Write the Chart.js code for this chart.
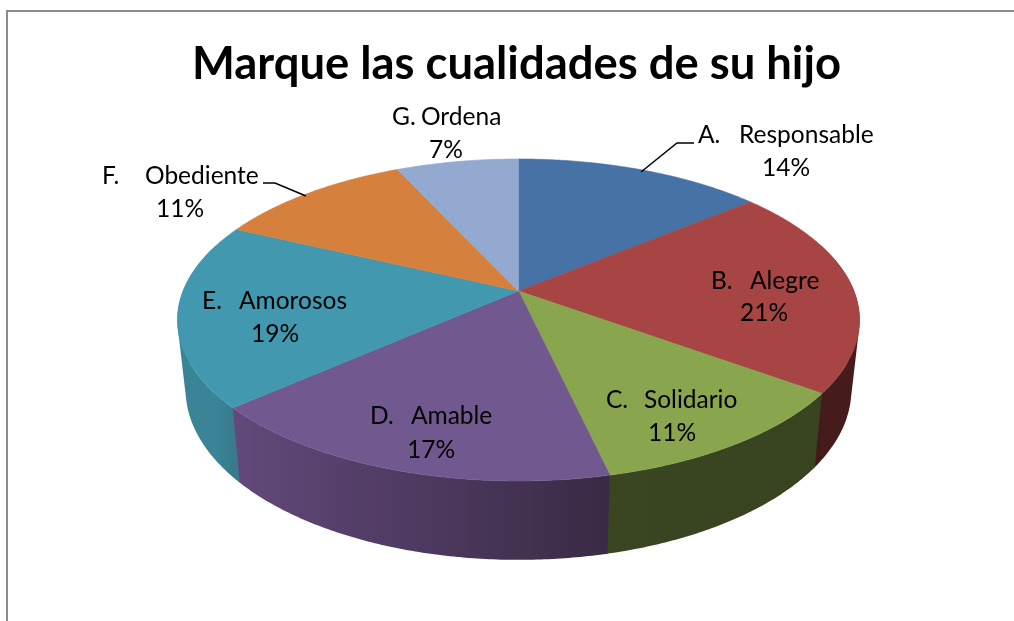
<!DOCTYPE html>
<html>
<head>
<meta charset="utf-8">
<script src="https://cdn.jsdelivr.net/npm/chart.js@4"></script>
<style>
  body { margin: 0; background: #fff; }
  #frame { position: absolute; left: 6px; top: 10px; width: 1008px; height: 611px;
           border-left: 2px solid #8c8c8c; border-top: 2px solid #8c8c8c; box-sizing: border-box; }
  canvas { position: absolute; left: 0; top: 0; }
</style>
</head>
<body>
<div id="frame"></div>
<canvas id="pieChart" width="1014" height="621"></canvas>
<script>
const titleText = "Marque las cualidades de su hijo";
const letters = ["A.", "B.", "C.", "D.", "E.", "F.", "G."];
const categories = ["Responsable", "Alegre", "Solidario", "Amable", "Amorosos", "Obediente", "Ordena"];
// the printed labels are these rounded
const values = [14, 21, 11.4, 17.1, 18.5, 11.1, 6.9];

const topColors = ["#4672a6", "#a64543", "#89a54e", "#71588f", "#4198af", "#d6803d", "#93a9cf"];
// rim colour at the slice's right end, then at its left end
const rimColors = [
  ["#2f4c70", "#2f4c70"],
  ["#421a1a", "#451b1b"],
  ["#384320", "#3a4620"],
  ["#392a45", "#62497a"],
  ["#397a8c", "#3a8498"],
  ["#905628", "#905628"],
  ["#62718b", "#62718b"]
];

// where the text goes: letter x, name x, first line y, percent centre x, second line y
const labelPos = [
  [698, 739, 135, 786, 168],
  [711, 750, 281, 764, 313],
  [606, 644, 400, 672, 433],
  [370, 411, 416, 431, 450],
  [202, 239, 301, 275, 334],
  [102, 145, 176, 180, 209],
  [392, 421, 117, 446, 150]
];
const leaders = [
  [[641, 172], [677, 143], [694, 143]],
  [[263, 183], [275, 183], [306, 196]]
];

// perspective view of the pie's circle, fitted to the picture
function topPoint(t) {
  const u = -Math.cos(t);
  const d = 1 - 0.18 * u;
  return [518.5 + 335.5 * Math.sin(t) / d, (291 + 103.4 * u) / d];
}
function bottomPoint(t) {
  const p = topPoint(t);
  return [518.5 + (p[0] - 518.5) * 0.976, 1.058 * p[1] + 51];
}

function addQuad(ctx, pts) {
  // quads flip winding at the silhouette, and opposite windings would cancel in the fill
  let area = 0;
  pts.forEach((p, i) => {
    const q = pts[(i + 1) % 4];
    area += p[0] * q[1] - q[0] * p[1];
  });
  const ordered = area < 0 ? pts.slice().reverse() : pts;
  ctx.moveTo(...ordered[0]);
  ordered.slice(1).forEach((p) => ctx.lineTo(...p));
  ctx.closePath();
}

function drawRim(ctx, from, to, colors) {
  const a = Math.max(from, Math.PI * 0.4);
  const b = Math.min(to + 0.006, Math.PI * 1.6);
  if (b <= a) return;
  const grad = ctx.createLinearGradient(topPoint(a)[0], 0, topPoint(b)[0], 0);
  grad.addColorStop(0, colors[0]);
  grad.addColorStop(1, colors[1]);
  ctx.fillStyle = grad;
  ctx.beginPath();
  for (let t = a; t < b; t += 0.01) {
    const next = Math.min(t + 0.01, b);
    addQuad(ctx, [topPoint(t), topPoint(next), bottomPoint(next), bottomPoint(t)]);
  }
  ctx.fill();
}

function drawTop(ctx, from, to, color) {
  ctx.fillStyle = color;
  ctx.strokeStyle = color;
  ctx.lineWidth = 0.6;
  ctx.beginPath();
  ctx.moveTo(518.5, 291);
  for (let t = from; t < to; t += 0.01) ctx.lineTo(...topPoint(t));
  ctx.lineTo(...topPoint(to));
  ctx.closePath();
  ctx.fill();
  ctx.stroke();
}

const perspectivePie = {
  id: "perspectivePie",
  beforeDatasetsDraw(chart) {
    const ctx = chart.ctx;
    const arcs = chart.getDatasetMeta(0).data;
    const angle = (a) => a + Math.PI / 2;
    ctx.save();
    arcs.forEach((arc, i) => drawRim(ctx, angle(arc.startAngle), angle(arc.endAngle), rimColors[i]));
    arcs.forEach((arc, i) => drawTop(ctx, angle(arc.startAngle), angle(arc.endAngle), topColors[i]));

    ctx.strokeStyle = "#000";
    ctx.lineWidth = 1.5;
    leaders.forEach((line) => {
      ctx.beginPath();
      line.forEach((p) => ctx.lineTo(p[0], p[1]));
      ctx.stroke();
    });

    ctx.fillStyle = "#000";
    ctx.font = "24.5px Lato";
    ctx.textBaseline = "middle";
    categories.forEach((name, i) => {
      const p = labelPos[i];
      ctx.textAlign = "left";
      ctx.fillText(letters[i], p[0], p[2]);
      ctx.fillText(name, p[1], p[2]);
      ctx.textAlign = "center";
      ctx.fillText(Math.round(values[i]) + "%", p[3], p[4]);
    });
    ctx.restore();
    return false;
  }
};

new Chart(document.getElementById("pieChart"), {
  type: "pie",
  data: {
    labels: categories,
    datasets: [{ data: values, backgroundColor: topColors }]
  },
  options: {
    responsive: false,
    animation: false,
    layout: { padding: { left: 19, top: 37 } },
    plugins: {
      legend: { display: false },
      tooltip: { enabled: false },
      title: {
        display: true,
        text: titleText,
        color: "#000",
        font: { family: "Lato", size: 45.4, weight: "bold" },
        padding: 0
      }
    }
  },
  plugins: [perspectivePie]
});
</script>
</body>
</html>
